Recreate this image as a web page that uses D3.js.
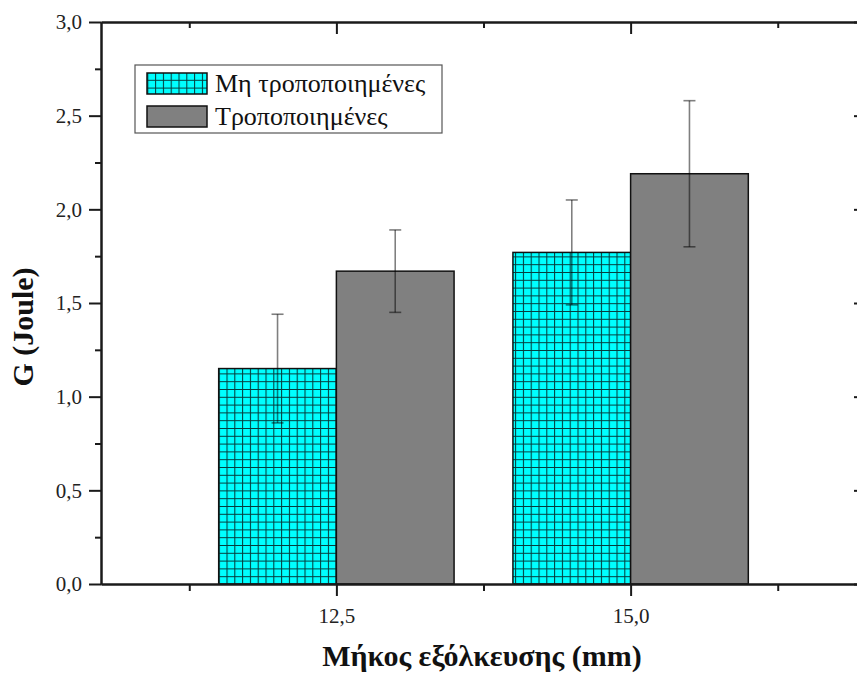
<!DOCTYPE html>
<html><head><meta charset="utf-8">
<script src="https://cdn.jsdelivr.net/npm/d3@7"></script>
<style>
  body { margin: 0; background: #fff; }
  svg { display: block; }
</style>
</head><body>
<svg id="chart" width="857" height="675"></svg>
<script>
// Pull-out length categories (mm) and their labels
const categories = [12.5, 15.0];
const categoryLabels = ["12,5", "15,0"];
// Series
const seriesNames = ["Μη τροποποιημένες", "Τροποποιημένες"];
const unmodified = [1.15, 1.77];
const unmodifiedErr = [0.29, 0.28];
const modified = [1.67, 2.19];
const modifiedErr = [0.22, 0.39];
// Axis ticks
const yTicks = [0, 0.5, 1.0, 1.5, 2.0, 2.5, 3.0];
const yTickLabels = ["0,0", "0,5", "1,0", "1,5", "2,0", "2,5", "3,0"];
const yMinorTicks = [0.25, 0.75, 1.25, 1.75, 2.25, 2.75];
const xMinorTicks = [11.25, 13.75, 16.25];

const font = "'Liberation Serif', 'Times New Roman', serif";
const svg = d3.select("#chart");

const x = d3.scaleLinear().domain([10.5, 17.0]).range([101, 866]);
const y = d3.scaleLinear().domain([0, 3.0]).range([584, 22]);
const barWidth = 1.0; // in x-axis units

// Crosshatch fill for the unmodified series
const defs = svg.append("defs");
const cell = 7.8;
const pat = defs.append("pattern")
  .attr("id", "grid").attr("patternUnits", "userSpaceOnUse")
  .attr("x", x(categories[0] - barWidth)).attr("y", y(0))
  .attr("width", cell).attr("height", cell);
pat.append("rect").attr("width", cell).attr("height", cell).attr("fill", "#00ffff");
pat.append("path").attr("d", `M0.5,0V${cell}M0,0.5H${cell}`)
  .attr("stroke", "#063c3c").attr("stroke-width", 1.1).attr("fill", "none");

const series = [
  { name: seriesNames[0], values: unmodified, errs: unmodifiedErr, fill: "url(#grid)", offset: -barWidth },
  { name: seriesNames[1], values: modified, errs: modifiedErr, fill: "#808080", offset: 0 }
];

const plot = svg.append("g");

// Bars
series.forEach(s => {
  plot.selectAll(null).data(categories).enter().append("rect")
    .attr("x", (c) => x(c + s.offset))
    .attr("y", (c, i) => y(s.values[i]))
    .attr("width", (c) => x(c + s.offset + barWidth) - x(c + s.offset))
    .attr("height", (c, i) => y(0) - y(s.values[i]))
    .attr("fill", s.fill)
    .attr("stroke", "#111").attr("stroke-width", 1.5);
});

// Error bars
series.forEach(s => {
  categories.forEach((c, i) => {
    const cx = x(c + s.offset + barWidth / 2);
    const top = y(s.values[i] + s.errs[i]);
    const bot = y(s.values[i] - s.errs[i]);
    const g = plot.append("g").attr("stroke", "#000").attr("stroke-opacity", 0.5)
      .attr("stroke-width", 1.6);
    g.append("line").attr("x1", cx).attr("x2", cx).attr("y1", top).attr("y2", bot);
    g.append("line").attr("x1", cx - 6).attr("x2", cx + 6).attr("y1", top).attr("y2", top);
    g.append("line").attr("x1", cx - 6).attr("x2", cx + 6).attr("y1", bot).attr("y2", bot);
  });
});

function styleAxis(g) {
  g.selectAll("path.domain").attr("stroke", "#1a1a1a").attr("stroke-width", 2);
  g.selectAll(".tick line").attr("stroke", "#1a1a1a").attr("stroke-width", 2);
  g.selectAll("text").attr("font-family", font).attr("font-size", 21).attr("fill", "#222");
}

// Left axis
svg.append("g").attr("transform", `translate(${x(10.5)},0)`)
  .call(d3.axisLeft(y).tickValues(yTicks).tickFormat((d, i) => yTickLabels[i])
    .tickSize(12).tickSizeOuter(0).tickPadding(7))
  .call(styleAxis);
svg.append("g").attr("transform", `translate(${x(10.5)},0)`)
  .call(d3.axisLeft(y).tickValues(yMinorTicks).tickFormat("").tickSize(6).tickSizeOuter(0))
  .call(styleAxis);

// Right axis (ticks inward)
svg.append("g").attr("transform", `translate(${x(17.0)},0)`)
  .call(d3.axisRight(y).tickValues(yTicks).tickFormat("").tickSize(-12).tickSizeOuter(0))
  .call(styleAxis);
svg.append("g").attr("transform", `translate(${x(17.0)},0)`)
  .call(d3.axisRight(y).tickValues(yMinorTicks).tickFormat("").tickSize(-6).tickSizeOuter(0))
  .call(styleAxis);

// Bottom axis
svg.append("g").attr("transform", `translate(0,${y(0)})`)
  .call(d3.axisBottom(x).tickValues(categories).tickFormat((d, i) => categoryLabels[i])
    .tickSize(12).tickSizeOuter(0).tickPadding(12))
  .call(styleAxis);
svg.append("g").attr("transform", `translate(0,${y(0)})`)
  .call(d3.axisBottom(x).tickValues(xMinorTicks).tickFormat("").tickSize(7).tickSizeOuter(0))
  .call(styleAxis);

// Top axis (ticks inward)
svg.append("g").attr("transform", `translate(0,${y(3.0)})`)
  .call(d3.axisTop(x).tickValues(categories).tickFormat("").tickSize(-12).tickSizeOuter(0))
  .call(styleAxis);
svg.append("g").attr("transform", `translate(0,${y(3.0)})`)
  .call(d3.axisTop(x).tickValues(xMinorTicks).tickFormat("").tickSize(-6).tickSizeOuter(0))
  .call(styleAxis);

// Axis titles
svg.append("text")
  .attr("transform", "translate(33,327) rotate(-90)")
  .attr("text-anchor", "middle")
  .attr("font-family", font).attr("font-weight", "bold").attr("font-size", 30)
  .attr("fill", "#111")
  .text("G (Joule)");
svg.append("text")
  .attr("x", 482).attr("y", 666)
  .attr("text-anchor", "middle")
  .attr("font-family", font).attr("font-weight", "bold").attr("font-size", 30)
  .attr("fill", "#111")
  .text("Μήκος εξόλκευσης (mm)");

// Legend
const legend = svg.append("g").attr("transform", "translate(135,65)");
legend.append("rect").attr("width", 307).attr("height", 68)
  .attr("fill", "#fff").attr("stroke", "#555").attr("stroke-width", 1.2);
series.forEach((s, i) => {
  const row = legend.append("g").attr("transform", `translate(12,${8 + i * 33})`);
  row.append("rect").attr("width", 60).attr("height", 21)
    .attr("fill", s.fill).attr("stroke", "#111").attr("stroke-width", 1.5);
  row.append("text").attr("x", 68).attr("y", 19)
    .attr("font-family", font).attr("font-size", 26).attr("fill", "#111")
    .text(s.name);
});
</script>
</body></html>
